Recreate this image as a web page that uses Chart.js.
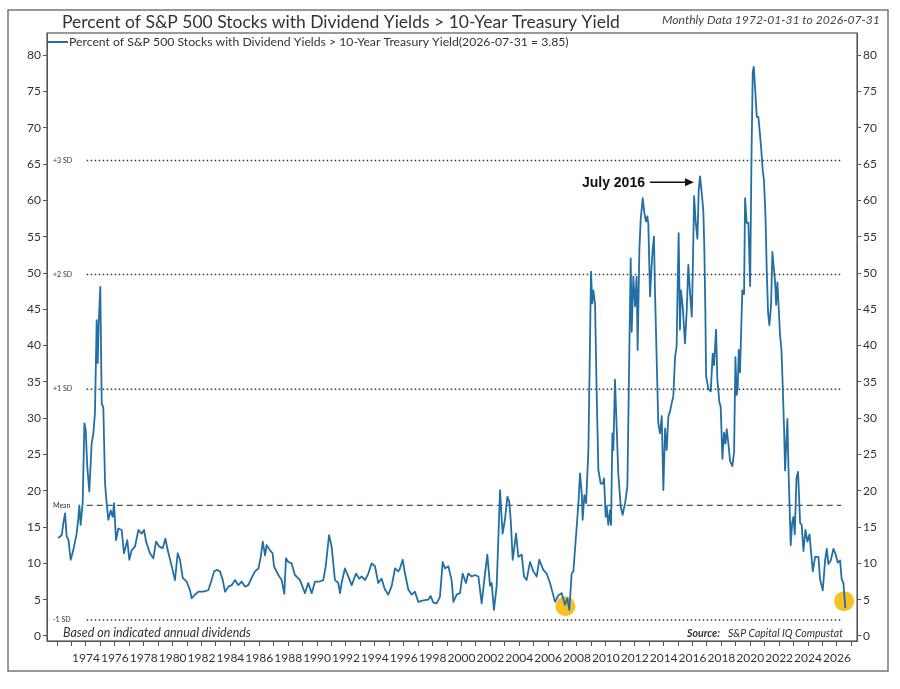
<!DOCTYPE html>
<html>
<head>
<meta charset="utf-8">
<script src="https://cdn.jsdelivr.net/npm/chart.js@4.4.1/dist/chart.umd.min.js"></script>
<style>
  body { margin: 0; background: #fff; }
  canvas { display: block; }
</style>
</head>
<body>
<canvas id="DividendChart" width="900" height="689" style="width:900px;height:689px"></canvas>
<script>
// Monthly readings (decimal year)
const sampleYears = [
    1972.08, 1972.32, 1972.43, 1972.55, 1972.66, 1972.78, 1972.94, 1973.12, 1973.35, 1973.47, 1973.54, 1973.63, 1973.77, 1973.89, 1973.98,
    1974.09, 1974.23, 1974.39, 1974.51, 1974.62, 1974.74, 1974.81, 1974.88, 1974.99, 1975.09, 1975.2, 1975.32, 1975.43, 1975.55, 1975.71,
    1975.85, 1975.94, 1976.08, 1976.24, 1976.47, 1976.63, 1976.86, 1977.0, 1977.16, 1977.39, 1977.63, 1977.86, 1978.02, 1978.16, 1978.43,
    1978.66, 1978.85, 1979.08, 1979.31, 1979.5, 1979.66, 1979.89, 1980.16, 1980.35, 1980.51, 1980.7, 1980.97, 1981.2, 1981.32, 1981.55,
    1981.78, 1982.13, 1982.47, 1982.7, 1982.87, 1983.05, 1983.28, 1983.47, 1983.63, 1983.86, 1984.09, 1984.32, 1984.55, 1984.78, 1985.01,
    1985.24, 1985.47, 1985.7, 1985.94, 1986.1, 1986.24, 1986.4, 1986.51, 1986.74, 1986.92, 1987.02, 1987.32, 1987.55, 1987.73, 1987.85,
    1988.01, 1988.24, 1988.47, 1988.82, 1989.16, 1989.39, 1989.63, 1989.86, 1990.2, 1990.43, 1990.6, 1990.83, 1991.01, 1991.24, 1991.47,
    1991.59, 1991.7, 1991.93, 1992.16, 1992.4, 1992.7, 1992.93, 1993.09, 1993.32, 1993.55, 1993.78, 1994.01, 1994.24, 1994.47, 1994.7,
    1994.93, 1995.17, 1995.4, 1995.63, 1995.74, 1995.93, 1996.09, 1996.32, 1996.55, 1996.78, 1997.01, 1997.36, 1997.7, 1997.87, 1998.05,
    1998.28, 1998.51, 1998.7, 1998.86, 1999.09, 1999.32, 1999.44, 1999.67, 1999.9, 2000.08, 2000.31, 2000.47, 2000.71, 2000.94, 2001.17,
    2001.4, 2001.63, 2001.79, 2001.98, 2002.09, 2002.25, 2002.44, 2002.67, 2002.85, 2003.01, 2003.18, 2003.31, 2003.41, 2003.55, 2003.78,
    2003.94, 2004.17, 2004.33, 2004.51, 2004.75, 2004.98, 2005.21, 2005.39, 2005.67, 2005.9, 2006.13, 2006.48, 2006.71, 2006.94, 2007.17,
    2007.33, 2007.47, 2007.63, 2007.75, 2007.93, 2008.1, 2008.21, 2008.33, 2008.39, 2008.51, 2008.63, 2008.79, 2008.9, 2008.97, 2009.06,
    2009.13, 2009.25, 2009.36, 2009.48, 2009.64, 2009.78, 2009.87, 2009.99, 2010.06, 2010.17, 2010.29, 2010.36, 2010.45, 2010.52, 2010.63,
    2010.75, 2010.86, 2011.03, 2011.16, 2011.33, 2011.49, 2011.63, 2011.72, 2011.79, 2011.9, 2012.02, 2012.13, 2012.2, 2012.32, 2012.41,
    2012.55, 2012.67, 2012.78, 2012.87, 2012.94, 2013.06, 2013.13, 2013.24, 2013.33, 2013.4, 2013.52, 2013.63, 2013.75, 2013.87, 2013.98,
    2014.1, 2014.21, 2014.33, 2014.44, 2014.56, 2014.67, 2014.79, 2014.9, 2014.97, 2015.04, 2015.13, 2015.2, 2015.32, 2015.48, 2015.6,
    2015.71, 2015.83, 2015.95, 2016.02, 2016.11, 2016.22, 2016.34, 2016.43, 2016.52, 2016.64, 2016.75, 2016.82, 2016.89, 2016.94, 2017.1,
    2017.26, 2017.4, 2017.49, 2017.63, 2017.72, 2017.86, 2017.95, 2018.07, 2018.18, 2018.28, 2018.37, 2018.51, 2018.6, 2018.76, 2018.88,
    2018.97, 2019.06, 2019.13, 2019.2, 2019.29, 2019.36, 2019.45, 2019.57, 2019.64, 2019.75, 2019.87, 2019.99, 2020.08, 2020.17, 2020.24,
    2020.33, 2020.45, 2020.56, 2020.68, 2020.75, 2020.86, 2020.95, 2021.05, 2021.14, 2021.23, 2021.32, 2021.44, 2021.53, 2021.6, 2021.72,
    2021.79, 2021.88, 2021.97, 2022.06, 2022.16, 2022.25, 2022.34, 2022.41, 2022.48, 2022.57, 2022.64, 2022.71, 2022.8, 2022.9, 2022.99,
    2023.08, 2023.2, 2023.31, 2023.45, 2023.56, 2023.68, 2023.82, 2023.96, 2024.1, 2024.19, 2024.33, 2024.49, 2024.72, 2024.83, 2025.02,
    2025.18, 2025.3, 2025.41, 2025.57, 2025.76, 2025.92, 2026.06, 2026.22, 2026.33, 2026.45, 2026.58
];

// Percent of S&P 500 stocks with dividend yield above the 10-year yield
const pctAboveTreasury = [
    13.5, 13.9, 15.5, 16.9, 13.7, 13.3, 10.5, 11.8, 14.1, 16.2, 18.0, 15.3, 18.3, 29.3, 28.4,
    23.3, 19.9, 26.5, 27.9, 30.7, 43.5, 37.6, 43.0, 48.1, 32.0, 31.5, 21.0, 18.3, 16.0, 17.3,
    16.4, 18.3, 13.2, 14.8, 14.6, 11.4, 13.2, 10.5, 11.8, 12.3, 14.6, 14.1, 14.6, 13.0, 11.4,
    10.7, 13.0, 12.3, 12.1, 13.4, 11.8, 10.0, 7.7, 11.4, 10.5, 8.0, 7.5, 6.3, 5.2, 5.7,
    6.1, 6.1, 6.3, 7.7, 8.9, 9.1, 8.9, 7.7, 6.1, 6.8, 7.0, 7.7, 7.0, 7.5, 6.8,
    7.0, 8.0, 8.9, 9.3, 10.9, 13.0, 11.1, 12.5, 11.8, 11.4, 9.6, 8.4, 7.7, 5.8, 10.7,
    10.2, 10.0, 8.4, 7.7, 5.9, 7.3, 5.9, 7.5, 7.5, 7.7, 9.6, 13.9, 12.3, 7.7, 7.3,
    5.9, 7.3, 9.3, 8.2, 7.0, 8.6, 7.9, 8.2, 7.7, 8.6, 10.0, 9.6, 7.3, 7.9, 6.4,
    5.7, 6.9, 9.3, 8.9, 9.3, 10.5, 8.6, 6.4, 5.7, 6.1, 4.7, 4.9, 5.0, 5.5, 4.6,
    4.5, 5.4, 10.2, 9.3, 9.6, 7.7, 4.7, 5.7, 5.9, 8.6, 7.3, 8.6, 8.2, 8.4, 8.2,
    4.5, 8.6, 11.2, 6.9, 7.3, 3.6, 6.9, 20.1, 14.1, 16.0, 19.2, 18.5, 16.0, 10.5, 14.1,
    10.9, 11.2, 8.2, 7.7, 10.2, 8.9, 8.2, 10.5, 9.1, 8.6, 7.3, 4.7, 5.6, 5.9, 4.3,
    5.2, 3.6, 8.6, 8.9, 13.7, 18.3, 22.4, 19.6, 16.0, 19.4, 18.3, 25.6, 40.3, 50.2, 45.8,
    47.6, 45.8, 33.9, 22.9, 21.0, 21.0, 21.7, 16.4, 17.8, 15.3, 17.3, 15.3, 27.9, 25.6, 35.3,
    28.6, 22.4, 17.8, 16.7, 18.3, 20.6, 39.9, 52.0, 41.9, 49.5, 45.4, 49.5, 39.4, 53.2, 57.3,
    60.3, 58.2, 57.1, 57.8, 56.8, 46.8, 49.7, 53.2, 55.0, 47.6, 38.0, 29.3, 27.9, 30.3, 20.1,
    28.6, 25.6, 30.3, 30.9, 32.1, 33.0, 38.4, 39.9, 48.1, 55.5, 42.2, 47.6, 45.4, 40.3, 44.9,
    51.1, 47.2, 44.0, 50.4, 60.6, 57.0, 54.7, 61.4, 63.3, 61.0, 58.5, 53.2, 44.6, 35.8, 34.0,
    33.7, 38.9, 37.3, 42.2, 35.3, 32.2, 31.6, 24.4, 28.0, 26.5, 28.5, 26.0, 24.1, 23.4, 25.4,
    38.4, 33.2, 34.2, 39.4, 36.3, 41.4, 47.6, 47.1, 60.3, 56.9, 56.9, 48.2, 65.3, 77.7, 78.4,
    75.6, 71.5, 71.5, 68.9, 67.3, 64.2, 62.7, 58.0, 50.3, 44.6, 42.8, 45.6, 52.9, 51.3, 48.7,
    45.6, 48.7, 45.1, 41.5, 39.4, 34.2, 28.5, 22.8, 25.9, 29.9, 23.4, 18.7, 12.5, 15.6, 16.4,
    14.0, 21.8, 22.6, 15.6, 15.3, 11.7, 14.6, 13.0, 14.0, 12.0, 8.9, 10.9, 10.9, 7.8, 6.3,
    10.4, 12.0, 9.9, 10.4, 12.0, 11.2, 10.1, 10.4, 7.8, 7.3, 3.85
];

// Standard deviation bands
const bandLevels = [65.5, 49.8, 34.0, 18.0, 2.2];
const bandLabels = ["+3 SD", "+2 SD", "+1 SD", "Mean", "-1 SD"];
const bandFromYear = 1974.05;
const bandToYear = 2026.3;

// Highlighted lows
const markerYears = [2007.2, 2026.5];
const markerValues = [4.1, 4.8];

// Tick labels
const axisYears = [];
for (let yr = 1972; yr <= 2027; yr++) axisYears.push(yr);
const valueTicks = [0, 5, 10, 15, 20, 25, 30, 35, 40, 45, 50, 55, 60, 65, 70, 75, 80];

const chartTitle = "Percent of S&P 500 Stocks with Dividend Yields > 10-Year Treasury Yield";
const chartSubtitle = "Monthly Data 1972-01-31 to 2026-07-31";
const legendText = "Percent of S&P 500 Stocks with Dividend Yields > 10-Year Treasury Yield(2026-07-31 = 3.85)";
const noteText = "Based on indicated annual dividends";
const sourceLabel = "Source:";
const sourceText = "S&P Capital IQ Compustat";
const calloutText = "July 2016";

const lineColor = '#236fa4';
const textColor = '#333';

/**
 * Writes text squeezed or stretched to a wanted width
 */
function fitText(ctx, text, x, y, width, size, style) {
    ctx.font = style + ' ' + size + 'px Lato';
    let w = ctx.measureText(text).width;
    let s = size * width / w;
    ctx.font = style + ' ' + s.toFixed(2) + 'px Lato';
    ctx.fillText(text, x, y);
}

const decorPlugin = {
    id: 'decor',
    beforeDatasetsDraw(chart) {
        const ctx = chart.ctx;
        const y = chart.scales.y;
        ctx.save();
        ctx.fillStyle = textColor;
        ctx.textBaseline = 'middle';
        ctx.textAlign = 'left';
        ctx.font = '7px Lato';
        for (let i = 0; i < bandLevels.length; i++) {
            ctx.fillText(bandLabels[i], chart.chartArea.left + 6, y.getPixelForValue(bandLevels[i]));
        }
        ctx.restore();
    },
    afterDraw(chart) {
        const ctx = chart.ctx;
        const area = chart.chartArea;
        const xs = chart.scales.x;
        const ys = chart.scales.y;
        ctx.save();

        // outer frame and plot box
        ctx.strokeStyle = '#777';
        ctx.lineWidth = 1.5;
        ctx.strokeRect(8, 10, 880, 661);
        ctx.strokeStyle = '#555';
        ctx.lineWidth = 1.2;
        ctx.strokeRect(area.left, area.top, area.right - area.left, area.bottom - area.top);

        // title and subtitle
        ctx.fillStyle = '#333';
        ctx.textBaseline = 'middle';
        ctx.textAlign = 'left';
        fitText(ctx, chartTitle, 62, 22, 558, 17, 'normal');
        ctx.fillStyle = '#444';
        fitText(ctx, chartSubtitle, 662, 20, 218, 11, 'italic');

        // legend
        ctx.strokeStyle = lineColor;
        ctx.lineWidth = 2;
        ctx.beginPath();
        ctx.moveTo(area.left + 1, 42);
        ctx.lineTo(area.left + 21, 42);
        ctx.stroke();
        ctx.fillStyle = textColor;
        fitText(ctx, legendText, area.left + 22, 42, 500, 11, 'normal');

        // footnotes
        fitText(ctx, noteText, 63, 633, 188, 11, 'italic');
        fitText(ctx, sourceLabel, 687, 634, 33, 10, 'italic bold');
        fitText(ctx, sourceText, 728, 634, 115, 10, 'italic');

        // July 2016 call-out
        let tipX = xs.getPixelForValue(2016.1);
        let tipY = ys.getPixelForValue(62.5);
        let startX = tipX - 44;
        ctx.strokeStyle = '#111';
        ctx.fillStyle = '#111';
        ctx.lineWidth = 1.5;
        ctx.beginPath();
        ctx.moveTo(startX, tipY);
        ctx.lineTo(tipX - 6, tipY);
        ctx.stroke();
        ctx.beginPath();
        ctx.moveTo(tipX, tipY);
        ctx.lineTo(tipX - 9, tipY - 4);
        ctx.lineTo(tipX - 9, tipY + 4);
        ctx.closePath();
        ctx.fill();
        ctx.textAlign = 'right';
        ctx.font = 'bold 14px "Liberation Sans"';
        ctx.fillText(calloutText, startX - 5, tipY + 1);

        ctx.restore();
    }
};

let datasets = [];

datasets.push({
    label: legendText,
    data: sampleYears.map((yr, i) => ({ x: yr, y: pctAboveTreasury[i] })),
    borderColor: lineColor,
    borderWidth: 1.8,
    borderJoinStyle: 'round',
    pointRadius: 0,
    tension: 0,
    order: 0
});

for (let i = 0; i < bandLevels.length; i++) {
    let isMean = bandLabels[i] == "Mean";
    datasets.push({
        label: bandLabels[i],
        data: [{ x: bandFromYear, y: bandLevels[i] }, { x: bandToYear, y: bandLevels[i] }],
        borderColor: isMean ? '#3e5a6c' : '#333',
        borderWidth: isMean ? 1.2 : 1.5,
        borderDash: isMean ? [6, 4] : [1.5, 2.5],
        pointRadius: 0,
        order: 2
    });
}

datasets.push({
    label: 'lows',
    data: markerYears.map((yr, i) => ({ x: yr, y: markerValues[i] })),
    showLine: false,
    pointRadius: 10,
    pointBackgroundColor: 'rgba(244,182,0,0.85)',
    pointBorderWidth: 0,
    order: 1
});

const tickFont = { family: 'Lato', size: 12 };

function valueAxis(position, width) {
    return {
        type: 'linear',
        position: position,
        min: -0.69,
        max: 83.06,
        afterBuildTicks: (scale) => { scale.ticks = valueTicks.map(v => ({ value: v })); },
        afterFit: (scale) => { scale.width = width; },
        ticks: { color: textColor, font: tickFont, padding: 2 },
        grid: { drawOnChartArea: false, tickLength: 4, color: '#555' },
        border: { color: '#555' }
    };
}

const config = {
    type: 'line',
    data: { datasets: datasets },
    options: {
        responsive: false,
        animation: false,
        layout: { padding: { top: 33, left: 0, right: 0, bottom: 0 } },
        plugins: {
            legend: { display: false },
            tooltip: { enabled: false }
        },
        scales: {
            x: {
                type: 'linear',
                min: 1971.3,
                max: 2027.39,
                afterBuildTicks: (scale) => { scale.ticks = axisYears.map(v => ({ value: v })); },
                afterFit: (scale) => { scale.height = 48; },
                ticks: {
                    autoSkip: false,
                    maxRotation: 0,
                    color: textColor,
                    font: tickFont,
                    padding: 5,
                    callback: function (value) {
                        return (value % 2 == 0 && value >= 1974 && value <= 2026) ? String(value) : '';
                    }
                },
                grid: { drawOnChartArea: false, tickLength: 5, color: '#555' },
                border: { color: '#555' }
            },
            y: valueAxis('left', 47),
            y2: valueAxis('right', 43)
        }
    },
    plugins: [decorPlugin]
};

new Chart(document.getElementById("DividendChart"), config);
</script>
</body>
</html>
